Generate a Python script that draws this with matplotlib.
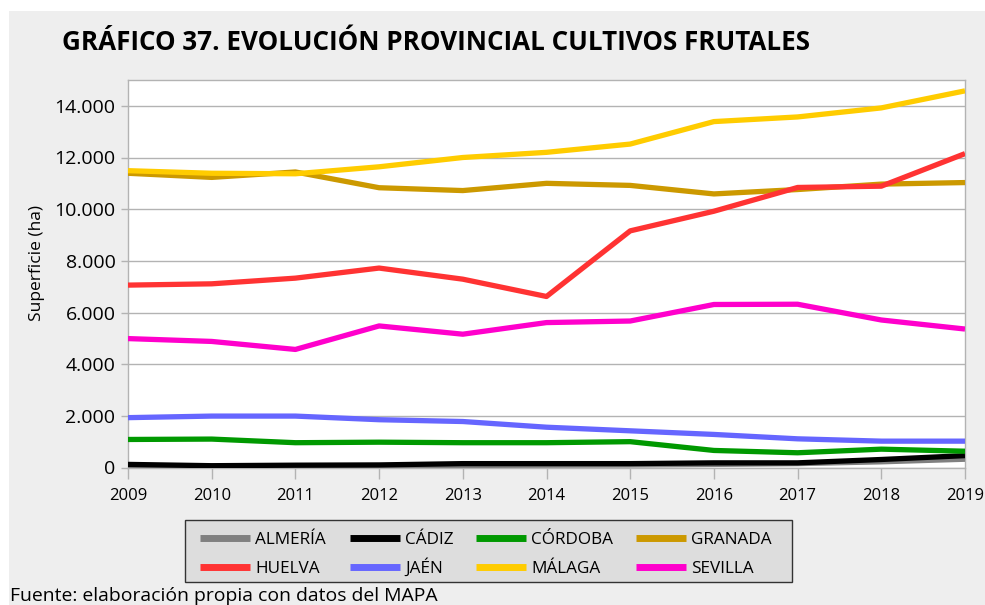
import matplotlib
matplotlib.use("Agg")
import matplotlib.pyplot as plt
from matplotlib import font_manager
from matplotlib.patches import Rectangle
from matplotlib.lines import Line2D
from matplotlib.ticker import FuncFormatter

# ---- data (ha) ----
years = [2009, 2010, 2011, 2012, 2013, 2014, 2015, 2016, 2017, 2018, 2019]
provinces = ["ALMERÍA", "CÁDIZ", "CÓRDOBA", "GRANADA",
             "HUELVA", "JAÉN", "MÁLAGA", "SEVILLA"]
almeria = [40, 40, 50, 60, 80, 90, 100, 120, 150, 220, 320]
cadiz = [120, 70, 90, 100, 150, 150, 150, 180, 180, 310, 460]
cordoba = [1085, 1100, 960, 980, 960, 960, 1000, 660, 570, 710, 630]
granada = [11390, 11230, 11440, 10830, 10720, 11000, 10920, 10590, 10760, 10970, 11030]
huelva = [7060, 7110, 7330, 7720, 7290, 6620, 9160, 9920, 10840, 10890, 12150]
jaen = [1930, 1990, 1990, 1850, 1780, 1560, 1420, 1280, 1110, 1020, 1020]
malaga = [11490, 11390, 11370, 11640, 12000, 12200, 12520, 13390, 13570, 13920, 14580]
sevilla = [4990, 4880, 4570, 5480, 5160, 5610, 5670, 6310, 6320, 5710, 5360]
series = [almeria, cadiz, cordoba, granada, huelva, jaen, malaga, sevilla]
colors = ["#808080", "#000000", "#009900", "#cc9900",
          "#ff3333", "#6666ff", "#ffcc00", "#ff00cc"]
y_ticks = [0, 2000, 4000, 6000, 8000, 10000, 12000, 14000]

title = "GRÁFICO 37. EVOLUCIÓN PROVINCIAL CULTIVOS FRUTALES"
ylabel = "Superficie (ha)"
source = "Fuente: elaboración propia con datos del MAPA"

available = {f.name for f in font_manager.fontManager.ttflist}


def pick(*names):
    for n in names:
        if n in available:
            return n
    return "DejaVu Sans"


base_font = pick("Open Sans", "Noto Sans", "DejaVu Sans")
title_font = pick("Liberation Sans Narrow", "Open Sans", "DejaVu Sans")
plt.rcParams["font.family"] = [base_font, "DejaVu Sans"]

W, H = 985, 605
fig = plt.figure(figsize=(W / 100, H / 100), dpi=100, facecolor="white")


def fx(px):
    return px / W


def fy(py):
    return (H - py) / H


# light grey panel behind everything
fig.patches.append(Rectangle((fx(9), 0), 1 - fx(9), (H - 11) / H,
                             transform=fig.transFigure, facecolor="#eeeeee",
                             edgecolor="none", zorder=-10))

left, right, top, bottom = 128, 965, 80, 467.5
ax = fig.add_axes([fx(left), fy(bottom), fx(right - left), (bottom - top) / H])
ax.set_zorder(1)
ax.set_facecolor("white")

grid_c = "#b3b3b3"
for yt in y_ticks:
    ax.axhline(yt, color=grid_c, lw=1.0, zorder=1)

for name, vals, c in zip(provinces, series, colors):
    ax.plot(years, vals, color=c, lw=3.8, label=name, zorder=3,
            solid_capstyle="butt")

ax.set_xlim(years[0], years[-1])
ax.set_ylim(0, 15000)
ax.set_xticks(years)
ax.set_yticks(y_ticks)
ax.yaxis.set_major_formatter(FuncFormatter(lambda v, p: f"{int(v):,}".replace(",", ".")))

for s in ax.spines.values():
    s.set_color(grid_c)
    s.set_linewidth(1.0)

ax.tick_params(axis="y", direction="out", length=5, width=1, color=grid_c,
               labelsize=14, pad=4, labelcolor="#000000")
ax.tick_params(axis="x", direction="out", length=8, width=1, color=grid_c,
               labelsize=12, pad=7, labelcolor="#000000")

fig.text(fx(37), fy(263), ylabel, rotation=90, ha="center", va="center",
         fontsize=12.5, color="#000000")

# title, sized to its printed width
t = fig.text(fx(62), fy(43), title, ha="left", va="center",
             fontsize=20, fontweight="bold", family=[title_font, "DejaVu Sans"],
             color="#000000")
fig.canvas.draw()
bb = t.get_window_extent()
t.set_fontsize(20 * (810 - 62) / bb.width)

# legend box: 4 columns, filled row by row
fig.patches.append(Rectangle((fx(185), fy(582)), fx(792 - 185), (582 - 520) / H,
                             transform=fig.transFigure, facecolor="#dddddd",
                             edgecolor="#333333", linewidth=1.0, zorder=2))
col_x = [200, 350, 476, 636]
row_y = [538, 567]
handle_len = 50
for i, (name, c) in enumerate(zip(provinces, colors)):
    r, k = divmod(i, 4)
    x0, y0 = col_x[k], row_y[r]
    fig.add_artist(Line2D([fx(x0), fx(x0 + handle_len)], [fy(y0), fy(y0)],
                          transform=fig.transFigure, color=c, lw=5,
                          solid_capstyle="butt", zorder=3))
    fig.text(fx(x0 + handle_len + 5), fy(y0 + 6), name, ha="left",
             va="baseline", fontsize=12.3, color="#000000", zorder=3)

s = fig.text(fx(10), fy(596), source, ha="left", va="center",
             fontsize=13, color="#000000")
fig.canvas.draw()
bb = s.get_window_extent()
s.set_fontsize(13 * (437 - 10) / bb.width)

fig.savefig("out.png", dpi=100, facecolor=fig.get_facecolor())
